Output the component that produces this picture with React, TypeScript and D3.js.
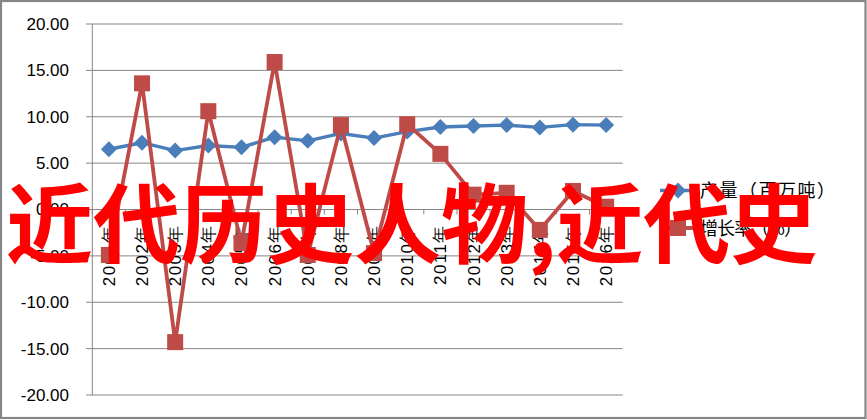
import React from "react";
import * as d3 from "d3";

const years = ["2001","2002","2003","2004","2005","2006","2007","2008","2009","2010","2011","2012","2013","2014","2015","2016"];
const output = [6.5, 7.2, 6.35, 6.9, 6.7, 7.8, 7.4, 8.2, 7.7, 8.4, 8.9, 9.0, 9.1, 8.85, 9.15, 9.1];
const growth = [-4.9, 13.6, -14.3, 10.6, -3.6, 15.9, -4.9, 9.1, -4.7, 9.2, 6.0, 1.6, 1.8, -2.2, 2.0, 0.3];
const yTicks = [20, 15, 10, 5, 0, -5, -10, -15, -20];
const seriesNames = ["产量（百万吨）", "增长率（%）"];
const watermark = "近代历史人物,近代史";

const W = 867, H = 420;
const BLUE = "#4A7EBB";
const RED = "#BE4B48";
const GRID = "#868686";

export default function App() {
  React.useEffect(() => {
    document.body.style.margin = "0";
  }, []);
  const x = d3.scaleBand<string>().domain(years).range([92.3, 622.7]);
  const y = d3.scaleLinear().domain([-20, 20]).range([395, 24]);
  const cx = (d: string) => (x(d) as number) + x.bandwidth() / 2;
  const line = d3.line<number>().x((_, i) => cx(years[i])).y((v) => y(v));
  const diamond = (px: number, py: number, r = 8) =>
    `M${px},${py - r}L${px + r},${py}L${px},${py + r}L${px - r},${py}Z`;
  const boundaries = years.map((d) => x(d) as number).concat([622.7]);
  const S = 16;

  return (
    <svg width={W} height={H} style={{ position: "absolute", left: 0, top: 0, background: "#fff" }}>
      <rect x={1} y={1} width={W - 2.5} height={H - 3} fill="#fff" stroke={GRID} strokeWidth={2.2} />
      {yTicks.map((t) => (
        <g key={t}>
          <line x1={86} x2={622.7} y1={y(t)} y2={y(t)} stroke={GRID} strokeWidth={1} />
          <text x={69} y={y(t)} dy="0.35em" textAnchor="end" fontFamily="Liberation Sans, Arial" fontSize={17} fill="#000">
            {t.toFixed(2)}
          </text>
        </g>
      ))}
      <line x1={92.3} x2={92.3} y1={24} y2={395} stroke={GRID} strokeWidth={1} />
      {boundaries.map((b, i) => (
        <line key={i} x1={b} x2={b} y1={y(0)} y2={y(0) + 5} stroke={GRID} strokeWidth={1} />
      ))}
      {years.map((d) => (
        <text
          key={d}
          transform={`translate(${cx(d) + 6},${224}) rotate(-90)`}
          textAnchor="end"
          fontFamily="Liberation Sans, Arial"
          fontSize={17}
          letterSpacing={1.5}
          fill="#000"
        >
          {d + "年"}
        </text>
      ))}
      <path d={line(output) || ""} fill="none" stroke={BLUE} strokeWidth={3.4} strokeLinejoin="round" />
      {output.map((v, i) => (
        <path key={i} d={diamond(cx(years[i]), y(v))} fill={BLUE} />
      ))}
      <path d={line(growth) || ""} fill="none" stroke={RED} strokeWidth={3.8} strokeLinejoin="round" />
      {growth.map((v, i) => (
        <rect key={i} x={cx(years[i]) - S / 2} y={y(v) - S / 2} width={S} height={S} fill={RED} />
      ))}
      <g>
        <line x1={660} x2={697} y1={190.5} y2={190.5} stroke={BLUE} strokeWidth={3.4} />
        <path d={diamond(678, 190.5)} fill={BLUE} />
        <text x={700} y={197} fontFamily="Noto Sans CJK SC" fontSize={18} textLength={135} fill="#000">
          {seriesNames[0]}
        </text>
        <line x1={660} x2={697} y1={228} y2={228} stroke={RED} strokeWidth={3.8} />
        <rect x={678 - S / 2} y={228 - S / 2} width={S} height={S} fill={RED} />
        <text x={700} y={234.5} fontFamily="Noto Sans CJK SC" fontSize={18} textLength={102} fill="#000">
          {seriesNames[1]}
        </text>
      </g>
      <text x={6} y={257} fontFamily="Noto Sans CJK SC" fontWeight={700} fontSize={87} fill="#FF0000">
        {watermark}
      </text>
    </svg>
  );
}
